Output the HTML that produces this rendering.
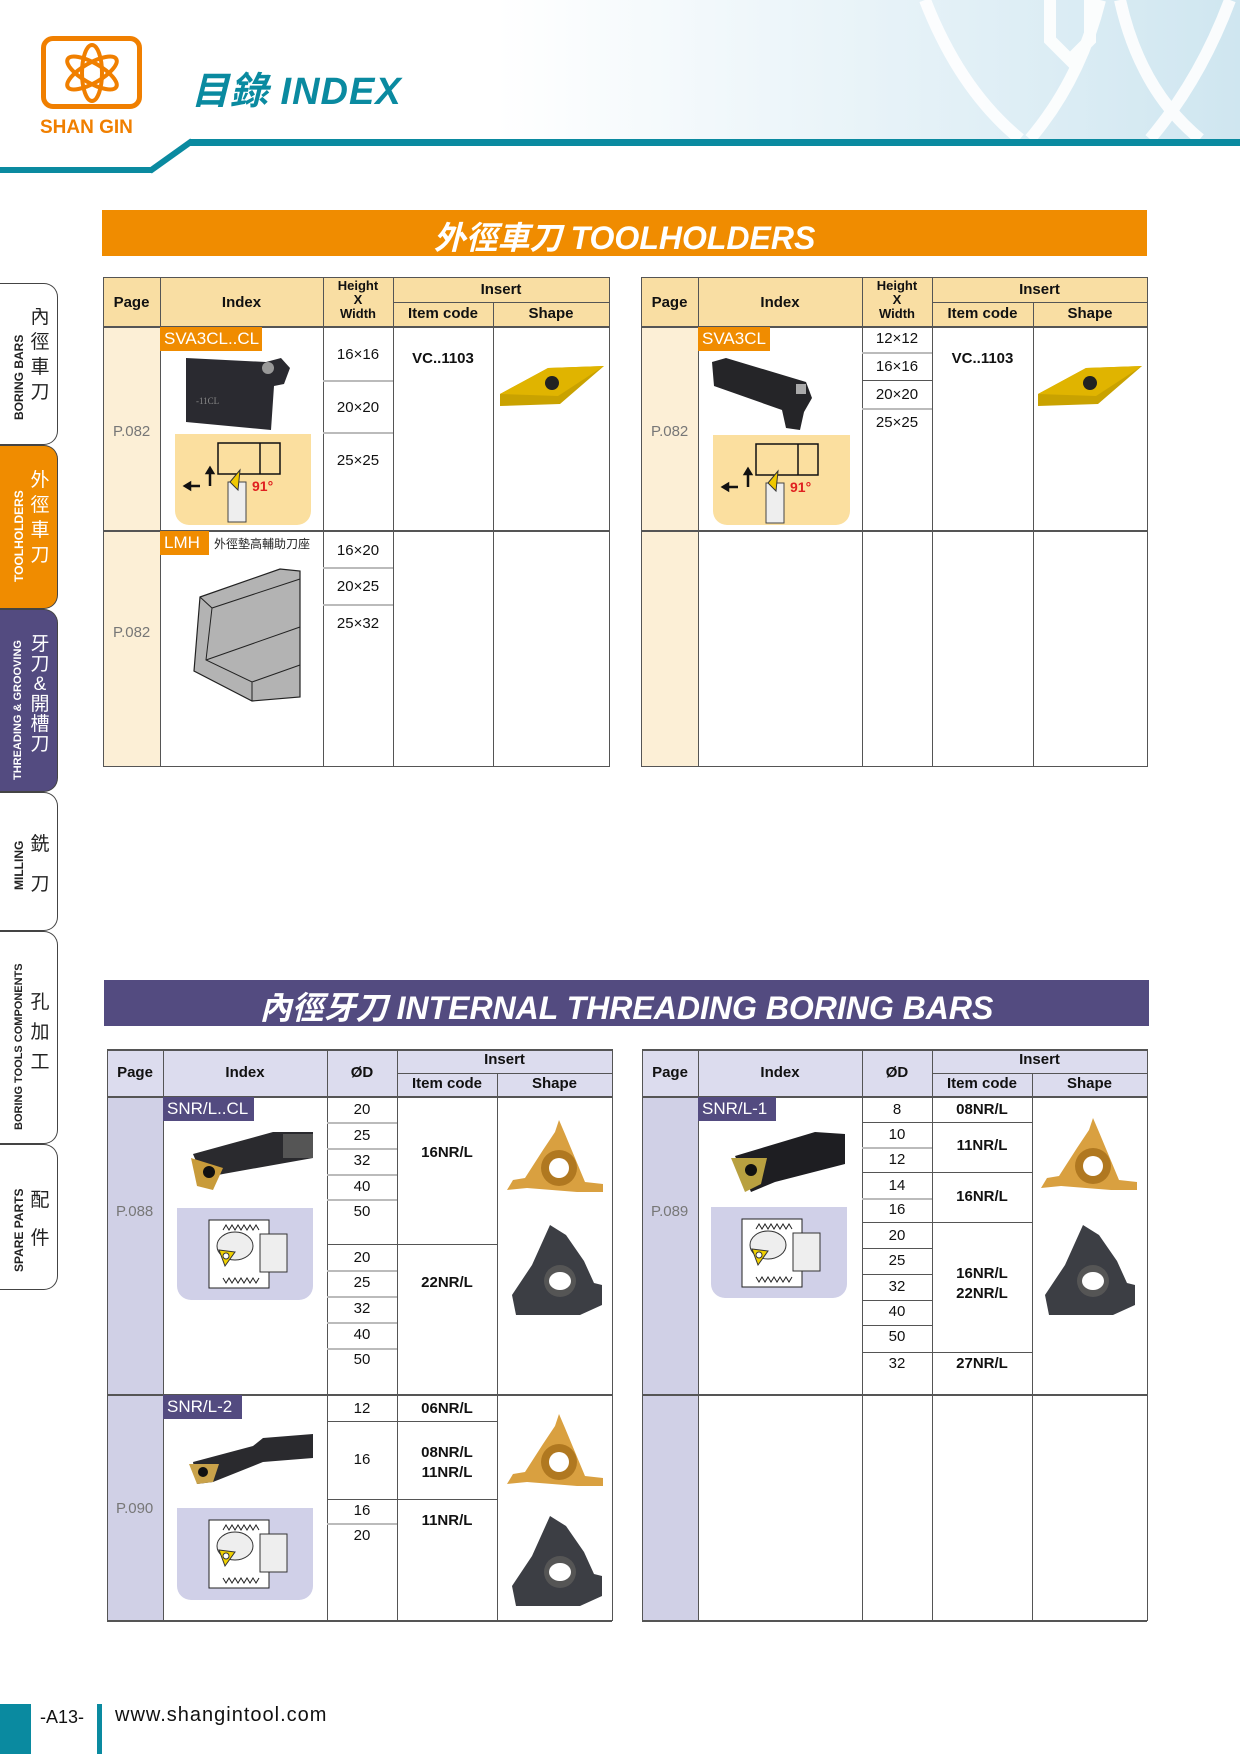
<!DOCTYPE html>
<html><head><meta charset="utf-8">
<style>
*{margin:0;padding:0;box-sizing:border-box}
body{width:1240px;height:1754px;position:relative;background:#fff;font-family:"Liberation Sans","Noto Sans CJK TC",sans-serif;overflow:hidden}
.a{position:absolute}
.h{position:absolute;height:1px;background:#555}
.v{position:absolute;width:1px;background:#555}
.g{position:absolute;height:2px;background:#bbb}
.t{position:absolute;text-align:center;font-size:15px;color:#111}
.b{font-weight:bold}
.pg{position:absolute;font-size:15px;color:#777}
.lab{position:absolute;color:#fff;font-size:17px;padding-left:4px;line-height:24px}
.tab{position:absolute;left:0;width:58px;border:1.5px solid #444;border-left:none;border-radius:0 14px 14px 0;background:#fff}
.tv{position:absolute;transform:rotate(-90deg);transform-origin:left top;white-space:nowrap;font-weight:bold;font-size:12px;color:#222}
.tc{position:absolute;left:30px;width:20px;font-size:19px;line-height:25px;color:#222;text-align:center}
</style></head><body>

<!-- header decoration -->
<div class="a" style="left:0;top:0;width:1240px;height:139px;background:linear-gradient(90deg,#fff 0,#fff 40%,#e4f1f7 75%,#cfe6f0 100%)"></div>
<svg class="a" style="left:900px;top:0" width="340" height="139">
<g fill="none" stroke="#fff" stroke-width="12" opacity="0.9">
<path d="M25 0 Q60 90 120 139"/>
<path d="M200 0 Q180 80 130 139"/>
<path d="M220 0 Q240 90 300 139"/>
<path d="M330 0 Q300 80 250 139"/>
<path d="M150 0 L150 40 L170 60 L190 40 L190 0"/>
</g></svg>
<div class="a" style="left:190px;top:139px;width:1050px;height:7px;background:#0a8aa0"></div>
<div class="a" style="left:0;top:167px;width:152px;height:6px;background:#0a8aa0"></div>
<svg class="a" style="left:145px;top:137px" width="52" height="38"><line x1="5" y1="34" x2="47" y2="4" stroke="#0a8aa0" stroke-width="6"/></svg>

<!-- logo -->
<div class="a" style="left:41px;top:36px;width:101px;height:73px;border:5px solid #f07f00;border-radius:12px"></div>
<svg class="a" style="left:52px;top:40px" width="80" height="66"><g fill="none" stroke="#f07f00" stroke-width="4">
<ellipse cx="40" cy="33" rx="10" ry="28"/><ellipse cx="40" cy="33" rx="10" ry="28" transform="rotate(60 40 33)"/><ellipse cx="40" cy="33" rx="10" ry="28" transform="rotate(-60 40 33)"/></g></svg>
<div class="a b" style="left:40px;top:117px;font-size:19px;color:#f07f00">SHAN GIN</div>
<div class="a b" style="left:191px;top:60px;font-size:38px;color:#0a8aa0;font-style:italic;letter-spacing:1px">目錄 INDEX</div>

<!-- side tabs -->
<div class="tab" style="top:283px;height:162px"></div>
<div class="tv" style="left:12px;top:420px">BORING BARS</div>
<div class="tc" style="top:305px">內<br>徑<br>車<br>刀</div>
<div class="tab" style="top:445px;height:164px;background:#f08c00"></div>
<div class="tv" style="left:12px;top:582px;color:#fff">TOOLHOLDERS</div>
<div class="tc" style="top:468px;color:#fff">外<br>徑<br>車<br>刀</div>
<div class="tab" style="top:609px;height:183px;background:#534b80"></div>
<div class="tv" style="left:12px;top:780px;color:#fff;font-size:11px">THREADING &amp; GROOVING</div>
<div class="tc" style="top:635px;color:#fff;line-height:20px">牙<br>刀<br>&amp;<br>開<br>槽<br>刀</div>
<div class="tab" style="top:792px;height:139px"></div>
<div class="tv" style="left:12px;top:890px">MILLING</div>
<div class="tc" style="top:825px;line-height:40px">銑<br>刀</div>
<div class="tab" style="top:931px;height:213px"></div>
<div class="tv" style="left:13px;top:1130px;font-size:11px">BORING TOOLS COMPONENTS</div>
<div class="tc" style="top:988px;line-height:30px">孔<br>加<br>工</div>
<div class="tab" style="top:1144px;height:146px"></div>
<div class="tv" style="left:12px;top:1272px">SPARE PARTS</div>
<div class="tc" style="top:1182px;line-height:38px">配<br>件</div>

<!-- section 1 bar -->
<div class="a" style="left:102px;top:210px;width:1045px;height:46px;background:#f08c00"></div>
<div class="a b" style="left:102px;top:213px;width:1045px;text-align:center;color:#fff;font-size:32px;font-style:italic">外徑車刀 TOOLHOLDERS</div>

<!-- TABLE 1 left -->
<div class="a" style="left:103px;top:277px;width:506px;height:49px;background:#f9dea3"></div>
<div class="a" style="left:103px;top:326px;width:57px;height:440px;background:#fcefd6"></div>
<div class="h" style="left:103px;top:277px;width:506px"></div>
<div class="h" style="left:393px;top:302px;width:216px"></div>
<div class="h" style="left:103px;top:326px;width:506px;height:2px"></div>
<div class="h" style="left:103px;top:530px;width:506px;height:2px"></div>
<div class="h" style="left:103px;top:766px;width:506px"></div>
<div class="v" style="left:103px;top:277px;height:490px"></div>
<div class="v" style="left:160px;top:277px;height:490px"></div>
<div class="v" style="left:323px;top:277px;height:490px"></div>
<div class="v" style="left:393px;top:277px;height:490px"></div>
<div class="v" style="left:493px;top:302px;height:465px"></div>
<div class="v" style="left:609px;top:277px;height:490px"></div>
<div class="g" style="left:323px;top:380px;width:70px"></div>
<div class="g" style="left:323px;top:432px;width:70px"></div>
<div class="g" style="left:323px;top:567px;width:70px"></div>
<div class="g" style="left:323px;top:604px;width:70px"></div>
<div class="t b" style="left:103px;top:294px;width:57px">Page</div>
<div class="t b" style="left:160px;top:294px;width:163px">Index</div>
<div class="t b" style="left:323px;top:279px;width:70px;font-size:13px;line-height:14px">Height<br>X<br>Width</div>
<div class="t b" style="left:393px;top:281px;width:216px">Insert</div>
<div class="t b" style="left:393px;top:305px;width:100px">Item code</div>
<div class="t b" style="left:493px;top:305px;width:116px">Shape</div>
<div class="pg" style="left:113px;top:423px">P.082</div>
<div class="pg" style="left:113px;top:624px">P.082</div>
<div class="lab" style="left:160px;top:327px;width:102px;background:#f08c00">SVA3CL..CL</div>
<svg class="a" style="left:186px;top:358px" width="120" height="76"><polygon points="0,0 80,4 95,0 104,10 98,26 88,28 85,72 0,64" fill="#2a2a30"/><circle cx="82" cy="10" r="6" fill="#999"/><text x="10" y="46" font-size="9" fill="#888" font-family="Liberation Serif">-11CL</text></svg>
<div class="a" style="left:175px;top:434px;width:136px;height:91px;background:#fbdf9f;border-radius:0 0 14px 14px"></div>
<svg class="a" style="left:180px;top:436px" width="130" height="88"><g stroke="#111" fill="none" stroke-width="1.5"><rect x="38" y="7" width="62" height="31"/><line x1="80" y1="7" x2="80" y2="38"/></g><rect x="48" y="46" width="18" height="40" fill="#eee" stroke="#444"/><polygon points="50,46 60,34 58,54" fill="#f0c800" stroke="#333"/><path d="M5 50 H20 M5 50 l5 -3 v6z M30 50 V34 M30 32 l-3 5 h6z" stroke="#111" stroke-width="2.5"/><text x="72" y="55" font-size="14" font-weight="bold" fill="#e02020" font-family="Liberation Sans">91°</text></svg>
<div class="t" style="left:323px;top:346px;width:70px">16×16</div>
<div class="t" style="left:323px;top:399px;width:70px">20×20</div>
<div class="t" style="left:323px;top:452px;width:70px">25×25</div>
<div class="t b" style="left:393px;top:350px;width:100px">VC..1103</div>
<svg class="a" style="left:498px;top:364px" width="110" height="48"><polygon points="2,30 50,4 106,2 62,40 2,42" fill="#c9a200"/><polygon points="2,30 50,4 106,2 60,32" fill="#e0b400"/><circle cx="54" cy="19" r="7" fill="#222"/></svg>
<div class="lab" style="left:160px;top:531px;width:49px;background:#f08c00">LMH</div>
<div class="a" style="left:214px;top:535px;font-size:12px;color:#222">外徑墊高輔助刀座</div>
<svg class="a" style="left:190px;top:565px" width="118" height="142"><polygon points="10,32 90,4 110,6 110,132 62,136 4,106" fill="#b3b3b3" stroke="#222" stroke-width="1.2"/><polyline points="10,32 22,43 110,14" fill="none" stroke="#222"/><polyline points="22,43 16,95 62,117 110,100" fill="none" stroke="#222"/><line x1="62" y1="117" x2="62" y2="136" stroke="#222"/><line x1="16" y1="95" x2="110" y2="62" stroke="#222"/></svg>
<div class="t" style="left:323px;top:542px;width:70px">16×20</div>
<div class="t" style="left:323px;top:578px;width:70px">20×25</div>
<div class="t" style="left:323px;top:615px;width:70px">25×32</div>

<!-- TABLE 1 right -->
<div class="a" style="left:641px;top:277px;width:506px;height:49px;background:#f9dea3"></div>
<div class="a" style="left:641px;top:326px;width:57px;height:440px;background:#fcefd6"></div>
<div class="h" style="left:641px;top:277px;width:506px"></div>
<div class="h" style="left:932px;top:302px;width:215px"></div>
<div class="h" style="left:641px;top:326px;width:506px;height:2px"></div>
<div class="h" style="left:641px;top:530px;width:506px;height:2px"></div>
<div class="h" style="left:641px;top:766px;width:506px"></div>
<div class="v" style="left:641px;top:277px;height:490px"></div>
<div class="v" style="left:698px;top:277px;height:490px"></div>
<div class="v" style="left:862px;top:277px;height:490px"></div>
<div class="v" style="left:932px;top:277px;height:490px"></div>
<div class="v" style="left:1033px;top:302px;height:465px"></div>
<div class="v" style="left:1147px;top:277px;height:490px"></div>
<div class="g" style="left:862px;top:352px;width:70px"></div>
<div class="h" style="left:862px;top:380px;width:70px"></div>
<div class="g" style="left:862px;top:408px;width:70px"></div>
<div class="t b" style="left:641px;top:294px;width:57px">Page</div>
<div class="t b" style="left:698px;top:294px;width:164px">Index</div>
<div class="t b" style="left:862px;top:279px;width:70px;font-size:13px;line-height:14px">Height<br>X<br>Width</div>
<div class="t b" style="left:932px;top:281px;width:215px">Insert</div>
<div class="t b" style="left:932px;top:305px;width:101px">Item code</div>
<div class="t b" style="left:1033px;top:305px;width:114px">Shape</div>
<div class="pg" style="left:651px;top:423px">P.082</div>
<div class="lab" style="left:698px;top:327px;width:72px;background:#f08c00">SVA3CL</div>
<svg class="a" style="left:712px;top:358px" width="120" height="76"><polygon points="0,4 14,0 94,24 100,40 92,54 88,72 74,70 70,52 2,28" fill="#252528"/><rect x="84" y="26" width="10" height="10" fill="#aaa"/></svg>
<div class="a" style="left:713px;top:435px;width:137px;height:90px;background:#fbdf9f;border-radius:0 0 14px 14px"></div>
<svg class="a" style="left:718px;top:437px" width="130" height="88"><g stroke="#111" fill="none" stroke-width="1.5"><rect x="38" y="7" width="62" height="31"/><line x1="80" y1="7" x2="80" y2="38"/></g><rect x="48" y="46" width="18" height="40" fill="#eee" stroke="#444"/><polygon points="50,46 60,34 58,54" fill="#f0c800" stroke="#333"/><path d="M5 50 H20 M5 50 l5 -3 v6z M30 50 V34 M30 32 l-3 5 h6z" stroke="#111" stroke-width="2.5"/><text x="72" y="55" font-size="14" font-weight="bold" fill="#e02020" font-family="Liberation Sans">91°</text></svg>
<div class="t" style="left:862px;top:330px;width:70px">12×12</div>
<div class="t" style="left:862px;top:358px;width:70px">16×16</div>
<div class="t" style="left:862px;top:386px;width:70px">20×20</div>
<div class="t" style="left:862px;top:414px;width:70px">25×25</div>
<div class="t b" style="left:932px;top:350px;width:101px">VC..1103</div>
<svg class="a" style="left:1036px;top:364px" width="110" height="48"><polygon points="2,30 50,4 106,2 62,40 2,42" fill="#c9a200"/><polygon points="2,30 50,4 106,2 60,32" fill="#e0b400"/><circle cx="54" cy="19" r="7" fill="#222"/></svg>

<!-- section 2 bar -->
<div class="a" style="left:104px;top:980px;width:1045px;height:46px;background:#534b80"></div>
<div class="a b" style="left:104px;top:983px;width:1045px;text-align:center;color:#fff;font-size:32px;font-style:italic">內徑牙刀 INTERNAL THREADING BORING BARS</div>

<!-- TABLE 2 left -->
<div class="a" style="left:107px;top:1049px;width:505px;height:47px;background:#dcdcee"></div>
<div class="a" style="left:107px;top:1096px;width:56px;height:524px;background:#d0d0e6"></div>
<div class="h" style="left:107px;top:1049px;width:505px;height:2px"></div>
<div class="h" style="left:397px;top:1073px;width:215px"></div>
<div class="h" style="left:107px;top:1096px;width:505px;height:2px"></div>
<div class="h" style="left:107px;top:1394px;width:505px;height:2px"></div>
<div class="h" style="left:107px;top:1620px;width:505px;height:2px"></div>
<div class="v" style="left:107px;top:1049px;height:572px"></div>
<div class="v" style="left:163px;top:1049px;height:572px"></div>
<div class="v" style="left:327px;top:1049px;height:572px"></div>
<div class="v" style="left:397px;top:1049px;height:572px"></div>
<div class="v" style="left:497px;top:1073px;height:548px"></div>
<div class="v" style="left:612px;top:1049px;height:572px"></div>
<div class="g" style="left:327px;top:1122px;width:70px"></div>
<div class="g" style="left:327px;top:1148px;width:70px"></div>
<div class="g" style="left:327px;top:1174px;width:70px"></div>
<div class="g" style="left:327px;top:1199px;width:70px"></div>
<div class="h" style="left:327px;top:1244px;width:170px"></div>
<div class="g" style="left:327px;top:1270px;width:70px"></div>
<div class="g" style="left:327px;top:1296px;width:70px"></div>
<div class="g" style="left:327px;top:1322px;width:70px"></div>
<div class="g" style="left:327px;top:1348px;width:70px"></div>
<div class="h" style="left:327px;top:1421px;width:170px"></div>
<div class="h" style="left:327px;top:1499px;width:170px"></div>
<div class="g" style="left:327px;top:1523px;width:70px"></div>
<div class="t b" style="left:107px;top:1064px;width:56px">Page</div>
<div class="t b" style="left:163px;top:1064px;width:164px">Index</div>
<div class="t b" style="left:327px;top:1064px;width:70px">ØD</div>
<div class="t b" style="left:397px;top:1051px;width:215px">Insert</div>
<div class="t b" style="left:397px;top:1075px;width:100px">Item code</div>
<div class="t b" style="left:497px;top:1075px;width:115px">Shape</div>
<div class="pg" style="left:116px;top:1203px">P.088</div>
<div class="pg" style="left:116px;top:1500px">P.090</div>
<div class="lab" style="left:163px;top:1097px;width:91px;background:#534b80">SNR/L..CL</div>
<div class="lab" style="left:163px;top:1395px;width:79px;background:#534b80">SNR/L-2</div>
<div class="t" style="left:327px;top:1101px;width:70px">20</div>
<div class="t" style="left:327px;top:1127px;width:70px">25</div>
<div class="t" style="left:327px;top:1152px;width:70px">32</div>
<div class="t" style="left:327px;top:1178px;width:70px">40</div>
<div class="t" style="left:327px;top:1203px;width:70px">50</div>
<div class="t" style="left:327px;top:1249px;width:70px">20</div>
<div class="t" style="left:327px;top:1274px;width:70px">25</div>
<div class="t" style="left:327px;top:1300px;width:70px">32</div>
<div class="t" style="left:327px;top:1326px;width:70px">40</div>
<div class="t" style="left:327px;top:1351px;width:70px">50</div>
<div class="t b" style="left:397px;top:1144px;width:100px">16NR/L</div>
<div class="t b" style="left:397px;top:1274px;width:100px">22NR/L</div>
<div class="t" style="left:327px;top:1400px;width:70px">12</div>
<div class="t" style="left:327px;top:1451px;width:70px">16</div>
<div class="t" style="left:327px;top:1502px;width:70px">16</div>
<div class="t" style="left:327px;top:1527px;width:70px">20</div>
<div class="t b" style="left:397px;top:1400px;width:100px">06NR/L</div>
<div class="t b" style="left:397px;top:1443px;width:100px;line-height:20px">08NR/L<br>11NR/L</div>
<div class="t b" style="left:397px;top:1512px;width:100px">11NR/L</div>

<!-- TABLE 2 right -->
<div class="a" style="left:642px;top:1049px;width:505px;height:47px;background:#dcdcee"></div>
<div class="a" style="left:642px;top:1096px;width:56px;height:524px;background:#d0d0e6"></div>
<div class="h" style="left:642px;top:1049px;width:505px;height:2px"></div>
<div class="h" style="left:932px;top:1073px;width:215px"></div>
<div class="h" style="left:642px;top:1096px;width:505px;height:2px"></div>
<div class="h" style="left:642px;top:1394px;width:505px;height:2px"></div>
<div class="h" style="left:642px;top:1620px;width:505px;height:2px"></div>
<div class="v" style="left:642px;top:1049px;height:572px"></div>
<div class="v" style="left:698px;top:1049px;height:572px"></div>
<div class="v" style="left:862px;top:1049px;height:572px"></div>
<div class="v" style="left:932px;top:1049px;height:572px"></div>
<div class="v" style="left:1032px;top:1073px;height:548px"></div>
<div class="v" style="left:1147px;top:1049px;height:572px"></div>
<div class="h" style="left:862px;top:1122px;width:170px"></div>
<div class="g" style="left:862px;top:1147px;width:70px"></div>
<div class="h" style="left:862px;top:1172px;width:170px"></div>
<div class="g" style="left:862px;top:1198px;width:70px"></div>
<div class="h" style="left:862px;top:1222px;width:170px"></div>
<div class="h" style="left:862px;top:1248px;width:70px"></div>
<div class="h" style="left:862px;top:1274px;width:70px"></div>
<div class="h" style="left:862px;top:1300px;width:70px"></div>
<div class="h" style="left:862px;top:1325px;width:70px"></div>
<div class="h" style="left:862px;top:1352px;width:170px"></div>
<div class="t b" style="left:642px;top:1064px;width:56px">Page</div>
<div class="t b" style="left:698px;top:1064px;width:164px">Index</div>
<div class="t b" style="left:862px;top:1064px;width:70px">ØD</div>
<div class="t b" style="left:932px;top:1051px;width:215px">Insert</div>
<div class="t b" style="left:932px;top:1075px;width:100px">Item code</div>
<div class="t b" style="left:1032px;top:1075px;width:115px">Shape</div>
<div class="pg" style="left:651px;top:1203px">P.089</div>
<div class="lab" style="left:698px;top:1097px;width:78px;background:#534b80">SNR/L-1</div>
<div class="t" style="left:862px;top:1101px;width:70px">8</div>
<div class="t" style="left:862px;top:1126px;width:70px">10</div>
<div class="t" style="left:862px;top:1151px;width:70px">12</div>
<div class="t" style="left:862px;top:1177px;width:70px">14</div>
<div class="t" style="left:862px;top:1201px;width:70px">16</div>
<div class="t" style="left:862px;top:1227px;width:70px">20</div>
<div class="t" style="left:862px;top:1252px;width:70px">25</div>
<div class="t" style="left:862px;top:1278px;width:70px">32</div>
<div class="t" style="left:862px;top:1303px;width:70px">40</div>
<div class="t" style="left:862px;top:1328px;width:70px">50</div>
<div class="t" style="left:862px;top:1355px;width:70px">32</div>
<div class="t b" style="left:932px;top:1101px;width:100px">08NR/L</div>
<div class="t b" style="left:932px;top:1137px;width:100px">11NR/L</div>
<div class="t b" style="left:932px;top:1188px;width:100px">16NR/L</div>
<div class="t b" style="left:932px;top:1264px;width:100px;line-height:20px">16NR/L<br>22NR/L</div>
<div class="t b" style="left:932px;top:1355px;width:100px">27NR/L</div>

<!-- tool images bottom -->
<svg class="a" style="left:183px;top:1128px" width="135" height="85"><polygon points="10,26 90,4 130,4 130,30 40,46 20,50" fill="#2a2a2e"/><rect x="100" y="6" width="30" height="24" fill="#555"/><polygon points="8,30 40,40 30,62 14,58" fill="#c89b3a"/><circle cx="26" cy="44" r="6" fill="#111"/></svg>
<svg class="a" style="left:183px;top:1432px" width="135" height="75"><polygon points="10,30 70,14 80,6 130,2 130,26 80,30 30,50 14,52" fill="#2a2a2e"/><polygon points="6,32 36,32 30,50 14,52" fill="#c9a24a"/><circle cx="20" cy="40" r="5" fill="#111"/></svg>
<svg class="a" style="left:715px;top:1128px" width="135" height="85"><polygon points="20,28 100,4 130,6 130,36 60,54 36,64" fill="#1e1e22"/><polygon points="16,30 52,30 46,56 30,64" fill="#b8a040"/><circle cx="36" cy="42" r="6" fill="#111"/></svg>
<!-- diagram boxes -->
<div class="a" style="left:177px;top:1208px;width:136px;height:92px;background:#d0d0e8;border-radius:0 0 14px 14px"></div>
<div class="a" style="left:177px;top:1508px;width:136px;height:92px;background:#d0d0e8;border-radius:0 0 14px 14px"></div>
<div class="a" style="left:711px;top:1207px;width:136px;height:91px;background:#d0d0e8;border-radius:0 0 14px 14px"></div>
<svg class="a" style="left:205px;top:1216px" width="90" height="76" id="d1"><rect x="4" y="4" width="60" height="68" fill="#fff" stroke="#222"/><path d="M18 14 l3 -5 l3 5 l3 -5 l3 5 l3 -5 l3 5 l3 -5 l3 5 l3 -5 l3 5 l3 -5 l3 5" stroke="#222" fill="none"/><path d="M18 62 l3 5 l3 -5 l3 5 l3 -5 l3 5 l3 -5 l3 5 l3 -5 l3 5 l3 -5 l3 5 l3 -5" stroke="#222" fill="none"/><ellipse cx="30" cy="30" rx="18" ry="14" fill="#eee" stroke="#333"/><rect x="55" y="18" width="27" height="38" fill="#eee" stroke="#333"/><polygon points="14,34 30,36 20,50" fill="#f0d000" stroke="#333"/><circle cx="21" cy="40" r="3" fill="#fff" stroke="#333"/></svg>
<svg class="a" style="left:205px;top:1516px" width="90" height="76"><rect x="4" y="4" width="60" height="68" fill="#fff" stroke="#222"/><path d="M18 14 l3 -5 l3 5 l3 -5 l3 5 l3 -5 l3 5 l3 -5 l3 5 l3 -5 l3 5 l3 -5 l3 5" stroke="#222" fill="none"/><path d="M18 62 l3 5 l3 -5 l3 5 l3 -5 l3 5 l3 -5 l3 5 l3 -5 l3 5 l3 -5 l3 5 l3 -5" stroke="#222" fill="none"/><ellipse cx="30" cy="30" rx="18" ry="14" fill="#eee" stroke="#333"/><rect x="55" y="18" width="27" height="38" fill="#eee" stroke="#333"/><polygon points="14,34 30,36 20,50" fill="#f0d000" stroke="#333"/><circle cx="21" cy="40" r="3" fill="#fff" stroke="#333"/></svg>
<svg class="a" style="left:738px;top:1215px" width="90" height="76"><rect x="4" y="4" width="60" height="68" fill="#fff" stroke="#222"/><path d="M18 14 l3 -5 l3 5 l3 -5 l3 5 l3 -5 l3 5 l3 -5 l3 5 l3 -5 l3 5 l3 -5 l3 5" stroke="#222" fill="none"/><path d="M18 62 l3 5 l3 -5 l3 5 l3 -5 l3 5 l3 -5 l3 5 l3 -5 l3 5 l3 -5 l3 5 l3 -5" stroke="#222" fill="none"/><ellipse cx="30" cy="30" rx="18" ry="14" fill="#eee" stroke="#333"/><rect x="55" y="18" width="27" height="38" fill="#eee" stroke="#333"/><polygon points="14,34 30,36 20,50" fill="#f0d000" stroke="#333"/><circle cx="21" cy="40" r="3" fill="#fff" stroke="#333"/></svg>

<!-- inserts -->
<svg class="a" style="left:507px;top:1120px" width="96" height="90"><polygon points="52,0 58,14 78,62 96,64 96,72 70,72 20,68 0,70 6,60 18,58 36,30 48,12" fill="#d9a040"/><circle cx="52" cy="48" r="18" fill="#b07820"/><circle cx="52" cy="48" r="10" fill="#fff"/></svg>
<svg class="a" style="left:510px;top:1225px" width="92" height="90"><polygon points="40,0 56,10 74,36 84,58 92,60 92,80 70,90 6,90 2,70 22,40" fill="#3c3e44"/><circle cx="50" cy="56" r="16" fill="#555"/><ellipse cx="50" cy="56" rx="11" ry="9" fill="#fff"/></svg>
<svg class="a" style="left:507px;top:1414px" width="96" height="90"><polygon points="52,0 58,14 78,62 96,64 96,72 70,72 20,68 0,70 6,60 18,58 36,30 48,12" fill="#d9a040"/><circle cx="52" cy="48" r="18" fill="#b07820"/><circle cx="52" cy="48" r="10" fill="#fff"/></svg>
<svg class="a" style="left:510px;top:1516px" width="92" height="90"><polygon points="40,0 56,10 74,36 84,58 92,60 92,80 70,90 6,90 2,70 22,40" fill="#3c3e44"/><circle cx="50" cy="56" r="16" fill="#555"/><ellipse cx="50" cy="56" rx="11" ry="9" fill="#fff"/></svg>
<svg class="a" style="left:1041px;top:1118px" width="96" height="90"><polygon points="52,0 58,14 78,62 96,64 96,72 70,72 20,68 0,70 6,60 18,58 36,30 48,12" fill="#d9a040"/><circle cx="52" cy="48" r="18" fill="#b07820"/><circle cx="52" cy="48" r="10" fill="#fff"/></svg>
<svg class="a" style="left:1043px;top:1225px" width="92" height="90"><polygon points="40,0 56,10 74,36 84,58 92,60 92,80 70,90 6,90 2,70 22,40" fill="#3c3e44"/><circle cx="50" cy="56" r="16" fill="#555"/><ellipse cx="50" cy="56" rx="11" ry="9" fill="#fff"/></svg>

<!-- footer -->
<div class="a" style="left:0;top:1704px;width:31px;height:50px;background:#0a8aa0"></div>
<div class="a" style="left:40px;top:1707px;font-size:18px;color:#111">-A13-</div>
<div class="a" style="left:97px;top:1704px;width:5px;height:50px;background:#0a8aa0"></div>
<div class="a" style="left:115px;top:1704px;font-size:20px;color:#111;letter-spacing:1px">www.shangintool.com</div>
</body></html>
